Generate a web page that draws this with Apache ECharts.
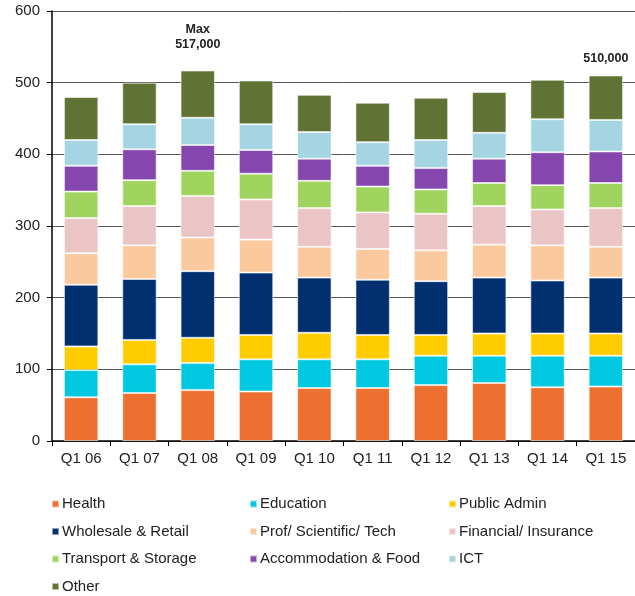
<!DOCTYPE html>
<html>
<head>
<meta charset="utf-8">
<script src="https://cdn.jsdelivr.net/npm/echarts@6/dist/echarts.min.js"></script>
<style>
  html, body { margin: 0; padding: 0; background: #fff; }
  #chart { width: 635px; height: 596px; }
</style>
</head>
<body>
<div id="chart"></div>
<script>
var quarters = ['Q1 06', 'Q1 07', 'Q1 08', 'Q1 09', 'Q1 10', 'Q1 11', 'Q1 12', 'Q1 13', 'Q1 14', 'Q1 15'];

// thousands (bottom to top)
var health        = [61, 67, 71, 69, 74, 74, 78, 81, 75, 76];
var education     = [38, 40, 38, 45, 40, 40, 41, 38, 44, 43];
var publicAdmin   = [33, 34, 35, 34, 37, 34, 29, 31, 31, 31];
var wholesale     = [86, 85, 93, 87, 77, 77, 75, 78, 74, 78];
var profSci       = [44, 47, 47, 46, 43, 43, 43, 46, 49, 43];
var financial     = [49, 55, 58, 56, 54, 51, 51, 54, 50, 54];
var transport     = [37, 36, 35, 36, 38, 36, 34, 32, 34, 35];
var accommodation = [36, 43, 36, 33, 31, 29, 30, 34, 46, 44];
var ict           = [36, 35, 38, 36, 37, 33, 39, 36, 46, 44];
var other         = [60, 58, 66, 61, 52, 55, 59, 57, 55, 62];

var seriesNames = ['Health', 'Education', 'Public Admin', 'Wholesale & Retail', 'Prof/ Scientific/ Tech',
    'Financial/ Insurance', 'Transport & Storage', 'Accommodation & Food', 'ICT', 'Other'];
var seriesData = [health, education, publicAdmin, wholesale, profSci, financial, transport, accommodation, ict, other];
var colors = ['#ED7031', '#00C8E0', '#FFCC00', '#003070', '#FBC99E', '#EBC5C5', '#A0D45F', '#8547AD', '#A5D5E2', '#617334'];

// notes above particular bars
var notes = { 2: 'Max\n517,000', 9: '510,000' };
var noteDist = { 2: 18, 9: 9 };

var chart = echarts.init(document.getElementById('chart'));

var series = [];
for (var i = 0; i < seriesNames.length; i++) {
    var data = seriesData[i].slice();
    if (i == seriesNames.length - 1) {
        data = data.map(function(v, k) {
            if (notes[k] == null) return v;
            return {
                value: v,
                label: {
                    show: true,
                    position: 'top',
                    distance: noteDist[k],
                    formatter: notes[k],
                    fontFamily: 'Liberation Sans',
                    fontWeight: 'bold',
                    fontSize: 12.5,
                    lineHeight: 15,
                    color: '#222'
                }
            };
        });
    }
    series.push({
        name: seriesNames[i],
        type: 'bar',
        stack: 'jobs',
        barCategoryGap: '41%',
        data: data,
        itemStyle: { color: colors[i], borderColor: 'rgba(255,255,255,0.55)', borderWidth: 1 },
        emphasis: { disabled: true }
    });
}

function makeLegend(names, left) {
    return {
        orient: 'vertical',
        left: left,
        top: 496.5,
        padding: 0,
        icon: 'rect',
        itemWidth: 7,
        itemHeight: 7,
        itemGap: 12.5,
        data: names,
        textStyle: { fontFamily: 'Liberation Sans', fontSize: 15, lineHeight: 15, color: '#222', padding: [0, 0, 0, -2] }
    };
}

var option = {
    animation: false,
    color: colors,
    textStyle: { fontFamily: 'Liberation Sans' },
    grid: { left: 52, right: 0, top: 11, bottom: 155 },
    legend: [
        makeLegend(['Health', 'Wholesale & Retail', 'Transport & Storage', 'Other'], 51),
        makeLegend(['Education', 'Prof/ Scientific/ Tech', 'Accommodation & Food'], 249),
        makeLegend(['Public Admin', 'Financial/ Insurance', 'ICT'], 448)
    ],
    xAxis: {
        type: 'category',
        data: quarters,
        axisLine: { lineStyle: { color: '#000', width: 1.5 } },
        axisTick: { show: true, length: 5, lineStyle: { color: '#000' } },
        axisLabel: { fontSize: 15, color: '#222', margin: 10 }
    },
    yAxis: {
        type: 'value',
        min: 0,
        max: 600,
        interval: 100,
        axisLine: { show: true, lineStyle: { color: '#000', width: 1.5 } },
        axisTick: { show: true, length: 5, lineStyle: { color: '#000' } },
        axisLabel: { fontSize: 15, color: '#222', margin: 12 },
        splitLine: { lineStyle: { color: '#555', width: 1 } }
    },
    series: series
};

chart.setOption(option);
</script>
</body>
</html>
